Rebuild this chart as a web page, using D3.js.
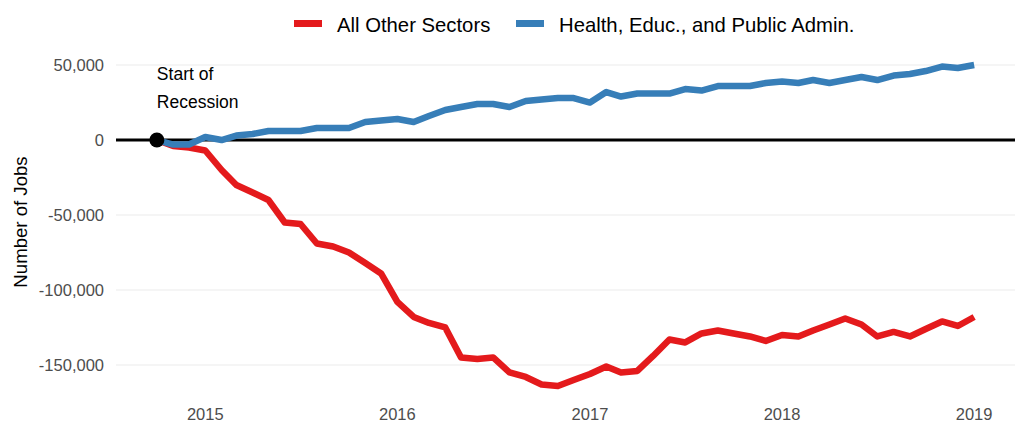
<!DOCTYPE html>
<html>
<head>
<meta charset="utf-8">
<script src="https://cdn.jsdelivr.net/npm/d3@7"></script>
<style>
  body { margin: 0; background: #fff; }
  svg { font-family: "Liberation Sans", Arial, sans-serif; }
</style>
</head>
<body>
<svg></svg>
<script>
// months from Oct 2014 to Jan 2019
var months = [
  "2014-10","2014-11","2014-12",
  "2015-01","2015-02","2015-03","2015-04","2015-05","2015-06","2015-07","2015-08","2015-09","2015-10","2015-11","2015-12",
  "2016-01","2016-02","2016-03","2016-04","2016-05","2016-06","2016-07","2016-08","2016-09","2016-10","2016-11","2016-12",
  "2017-01","2017-02","2017-03","2017-04","2017-05","2017-06","2017-07","2017-08","2017-09","2017-10","2017-11","2017-12",
  "2018-01","2018-02","2018-03","2018-04","2018-05","2018-06","2018-07","2018-08","2018-09","2018-10","2018-11","2018-12",
  "2019-01"
]

// change in jobs since start of recession
var otherSectors = [
  0, -4000, -5000,
  -7000, -20000, -30000, -35000, -40000, -55000, -56000, -69000, -71000, -75000, -82000, -89000,
  -108000, -118000, -122000, -125000, -145000, -146000, -145000, -155000, -158000, -163000, -164000, -160000,
  -156000, -151000, -155000, -154000, -144000, -133000, -135000, -129000, -127000, -129000, -131000, -134000,
  -130000, -131000, -127000, -123000, -119000, -123000, -131000, -128000, -131000, -126000, -121000, -124000,
  -118000
]
var healthEducAdmin = [
  0, -3000, -3000,
  2000, 0, 3000, 4000, 6000, 6000, 6000, 8000, 8000, 8000, 12000, 13000,
  14000, 12000, 16000, 20000, 22000, 24000, 24000, 22000, 26000, 27000, 28000, 28000,
  25000, 32000, 29000, 31000, 31000, 31000, 34000, 33000, 36000, 36000, 36000, 38000,
  39000, 38000, 40000, 38000, 40000, 42000, 40000, 43000, 44000, 46000, 49000, 48000,
  50000
]

var seriesNames = ["All Other Sectors", "Health, Educ., and Public Admin."]
var seriesColors = ["#e41a1c", "#377eb8"]
var yTicks = [-150000, -100000, -50000, 0, 50000]
var xTicks = ["2015", "2016", "2017", "2018", "2019"]
var annotation = ["Start of", "Recession"]

var width = 1031
var height = 422
var svg = d3.select("svg")
  .attr("width", width)
  .attr("height", height)

var margin = {top: 49, right: 16, bottom: 20, left: 116}
var parse = d3.timeParse("%Y-%m")
var dates = months.map(parse)

// ggplot-like 5% expansion
var xExt = d3.extent(dates)
var xPad = (xExt[1] - xExt[0]) * 0.05
var x = d3.scaleTime()
  .domain([new Date(+xExt[0] - xPad), new Date(+xExt[1] + xPad)])
  .range([margin.left, width - margin.right])

var allVals = otherSectors.concat(healthEducAdmin)
var yMin = d3.min(allVals), yMax = d3.max(allVals)
var yPad = (yMax - yMin) * 0.05
var y = d3.scaleLinear()
  .domain([yMin - yPad, yMax + yPad])
  .range([height - margin.bottom, margin.top])

// gridlines
svg.append("g")
  .selectAll("line")
  .data(yTicks)
  .enter()
  .append("line")
  .attr("x1", margin.left)
  .attr("x2", width - margin.right)
  .attr("y1", d => y(d))
  .attr("y2", d => y(d))
  .attr("stroke", "#ebebeb")
  .attr("stroke-width", 1.1)

// y axis labels
var fmt = d3.format(",")
svg.append("g")
  .selectAll("text")
  .data(yTicks)
  .enter()
  .append("text")
  .attr("x", margin.left - 12)
  .attr("y", d => y(d))
  .attr("dy", "0.38em")
  .attr("text-anchor", "end")
  .attr("fill", "#4d4d4d")
  .style("font-size", "16.5px")
  .text(d => fmt(d).replace("\u2212", "-"))

// x axis labels
svg.append("g")
  .selectAll("text")
  .data(xTicks)
  .enter()
  .append("text")
  .attr("x", d => x(d3.timeParse("%Y")(d)))
  .attr("y", 420)
  .attr("text-anchor", "middle")
  .attr("fill", "#4d4d4d")
  .style("font-size", "16.5px")
  .text(d => d)

// y axis title
svg.append("text")
  .attr("transform", "translate(27,222) rotate(-90)")
  .attr("text-anchor", "middle")
  .style("font-size", "18.6px")
  .attr("fill", "#000")
  .text("Number of Jobs")

// zero line
svg.append("line")
  .attr("x1", margin.left)
  .attr("x2", width - margin.right)
  .attr("y1", y(0))
  .attr("y2", y(0))
  .attr("stroke", "#000")
  .attr("stroke-width", 3)

// series lines
var line = d3.line()
  .x((d, i) => x(dates[i]))
  .y(d => y(d))

svg.append("g")
  .selectAll("path")
  .data([otherSectors, healthEducAdmin])
  .enter()
  .append("path")
  .attr("d", d => line(d))
  .attr("fill", "none")
  .attr("stroke", (d, i) => seriesColors[i])
  .attr("stroke-width", 6.5)
  .attr("stroke-linejoin", "round")

// start of recession point
svg.append("circle")
  .attr("cx", x(dates[0]))
  .attr("cy", y(0))
  .attr("r", 7.5)
  .attr("fill", "#000")

svg.append("g")
  .selectAll("text")
  .data(annotation)
  .enter()
  .append("text")
  .attr("x", x(dates[0]))
  .attr("y", (d, i) => 80 + i * 27.7)
  .style("font-size", "17.5px")
  .attr("fill", "#000")
  .text(d => d)

// legend
var legend = svg.append("g")
var swatchX = [294, 516]
var labelX = [337, 559]
seriesNames.forEach(function(name, i) {
  legend.append("rect")
    .attr("x", swatchX[i])
    .attr("y", 20)
    .attr("width", 28)
    .attr("height", 7)
    .attr("fill", seriesColors[i])
  legend.append("text")
    .attr("x", labelX[i])
    .attr("y", 32)
    .style("font-size", "20.3px")
    .attr("fill", "#000")
    .text(name)
})
</script>
</body>
</html>
